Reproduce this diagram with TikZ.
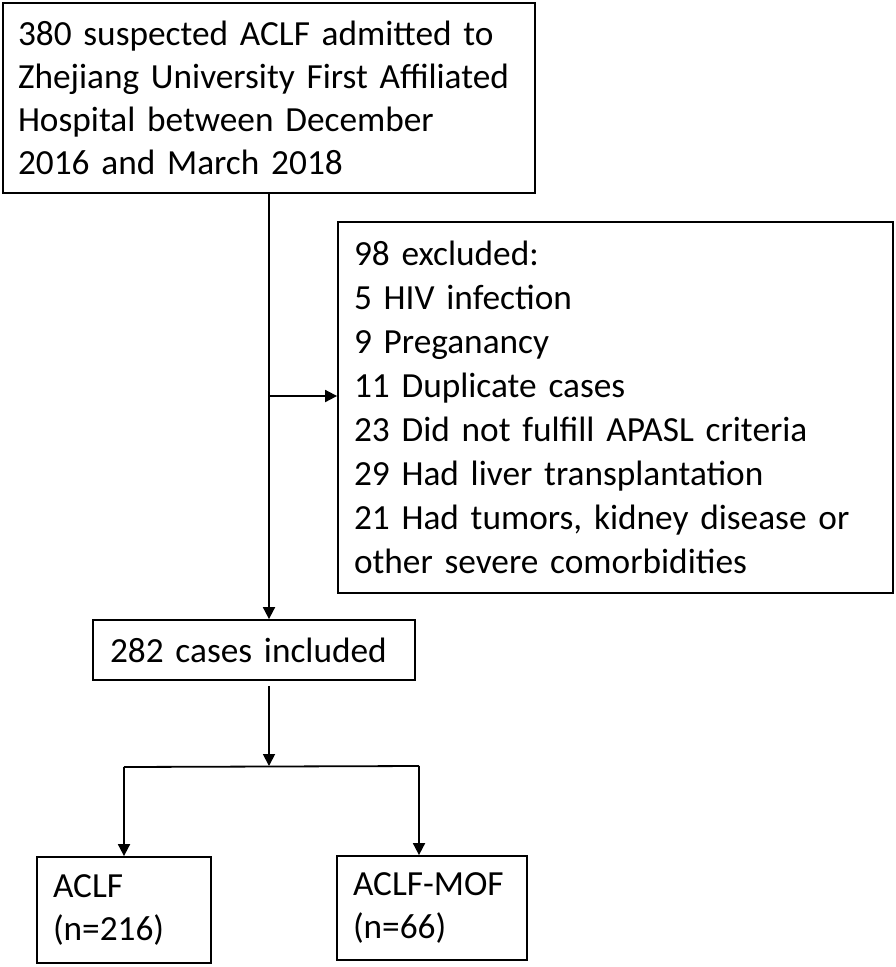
\documentclass[tikz,border=0pt]{standalone}
\usepackage{fontspec}
\setmainfont{Carlito}
\usetikzlibrary{arrows.meta}
\begin{document}
\begin{tikzpicture}[x=1pt,y=-1pt,
  box/.style={draw=black, line width=1.8pt, rectangle, inner ysep=0pt, align=left,
    font=\fontsize{35.3}{43}\selectfont},
  arr/.style={line width=1.8pt, -{Triangle[length=12pt,width=12pt]}},
  ln/.style={line width=1.8pt}]
\useasboundingbox (0,0) rectangle (896,967);
\node[box, minimum width=532pt, minimum height=190pt, inner xsep=15pt, text width=502pt] (top) at (269,98)
  {\mbox{380 suspected ACLF admitted to}\\
   \mbox{Zhejiang University First Affiliated}\\
   \mbox{Hospital between December}\\
   \mbox{2016 and March 2018}};
\node[box, minimum width=555pt, minimum height=371pt, inner xsep=16pt, text width=523pt,
  font=\fontsize{35.3}{44.1}\selectfont] (excl) at (615.5,407.5)
  {\mbox{98 excluded:}\\
   \mbox{5 HIV infection}\\
   \mbox{9 Preganancy}\\
   \mbox{11 Duplicate cases}\\
   \mbox{23 Did not fulfill APASL criteria}\\
   \mbox{29 Had liver transplantation}\\
   \mbox{21 Had tumors, kidney disease or}\\
   \mbox{other severe comorbidities}};
\node[box, minimum width=322pt, minimum height=60pt, inner xsep=17pt, text width=288pt] (inc) at (254,650)
  {\mbox{282 cases included}};
\node[box, minimum width=174pt, minimum height=106pt, inner xsep=16pt, text width=142pt] (aclf) at (124,910)
  {\mbox{ACLF}\\ \mbox{(n=216)}};
\node[box, minimum width=190pt, minimum height=104pt, inner xsep=16pt, text width=158pt] (mof) at (432,908)
  {\mbox{ACLF-MOF}\\ \mbox{(n=66)}};
\coordinate (j1) at (269,396);
\coordinate (j2) at (269,766);
\coordinate (jl) at (124,767);
\coordinate (jr) at (419,766);
\draw[arr] (top.south) -- (top.south |- inc.north);
\draw[arr] (j1) -- (j1 -| excl.west);
\draw[arr, shorten <=5pt] (top.south |- inc.south) -- (j2);
\draw[ln] (jl) -- (jr);
\draw[arr] (jl) -- (jl |- aclf.north);
\draw[arr] (jr) -- (jr |- mof.north);
\end{tikzpicture}
\end{document}
